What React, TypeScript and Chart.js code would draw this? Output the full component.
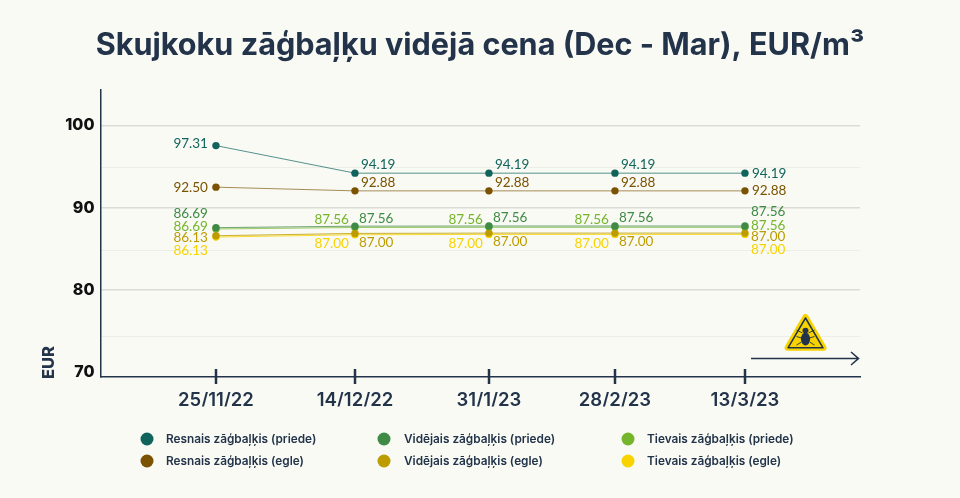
import React, { useEffect, useRef } from "react";
import { Chart, registerables } from "chart.js";

Chart.register(...registerables);

const categories = ["25/11/22", "14/12/22", "31/1/23", "28/2/23", "13/3/23"];
// Dates sit unevenly along the axis in the reference.
const categoryPositions = [0, 1.051, 2.064, 3.017, 4];

const seriesNames = [
  "Resnais zāģbaļķis (priede)",
  "Resnais zāģbaļķis (egle)",
  "Vidējais zāģbaļķis (priede)",
  "Vidējais zāģbaļķis (egle)",
  "Tievais zāģbaļķis (priede)",
  "Tievais zāģbaļķis (egle)",
];

// Plotted heights
const resnaisPriede = [97.55, 94.2, 94.2, 94.2, 94.2];
const resnaisEgle = [92.5, 92.05, 92.05, 92.05, 92.05];
const vidPriede = [87.58, 87.76, 87.78, 87.78, 87.78];
const vidEgle = [86.6, 86.88, 86.92, 86.92, 86.92];
const tievPriede = [87.42, 87.6, 87.62, 87.62, 87.62];
const tievEgle = [86.44, 86.72, 86.76, 86.76, 86.76];

// Printed labels
const resnaisPriedeLabels = ["97.31", "94.19", "94.19", "94.19", "94.19"];
const resnaisEgleLabels = ["92.50", "92.88", "92.88", "92.88", "92.88"];
const vidPriedeLabels = ["86.69", "87.56", "87.56", "87.56", "87.56"];
const vidEgleLabels = ["86.13", "87.00", "87.00", "87.00", "87.00"];
const tievPriedeLabels = ["86.69", "87.56", "87.56", "87.56", "87.56"];
const tievEgleLabels = ["86.13", "87.00", "87.00", "87.00", "87.00"];

const TITLE = "Skujkoku zāģbaļķu vidējā cena (Dec - Mar), EUR/m³";
const FONT = "Inter";
const LABEL_FONT = "Lato";
const INK = "#22334a";
const BG = "#f9faf4";

type Place = { dx: number; dy: number; align: CanvasTextAlign };
type Row = { color: string; line: string; data: number[]; labels: string[]; first: Place; mid: Place; last: Place };

const left = (dx: number, dy: number): Place => ({ dx, dy, align: "left" });
const right = (dx: number, dy: number): Place => ({ dx, dy, align: "right" });

const rows: Row[] = [
  { color: "#11645c", line: "rgba(17,100,92,0.7)", data: resnaisPriede, labels: resnaisPriedeLabels, first: right(-8, -1.5), mid: left(6, -8.5), last: left(7, 0) },
  { color: "#7a5200", line: "rgba(122,82,0,0.65)", data: resnaisEgle, labels: resnaisEgleLabels, first: right(-8, 0), mid: left(6, -8), last: left(7, 0) },
  { color: "#3f8a45", line: "rgba(63,138,69,0.75)", data: vidPriede, labels: vidPriedeLabels, first: right(-8, -14), mid: left(4, -8), last: left(6, -14) },
  { color: "#bd9c00", line: "rgba(189,156,0,0.8)", data: vidEgle, labels: vidEgleLabels, first: right(-8, 2), mid: left(4, 9), last: left(6, 3.5) },
  { color: "#75b52b", line: "rgba(117,181,43,0.7)", data: tievPriede, labels: tievPriedeLabels, first: right(-8, -2.5), mid: right(-6, -8), last: left(6, -2) },
  { color: "#f8d300", line: "rgba(248,211,0,0.8)", data: tievEgle, labels: tievEgleLabels, first: right(-8, 13.5), mid: right(-6, 9), last: left(6, 15) },
];

const pointLabels = {
  id: "pointLabels",
  afterDatasetsDraw(chart: any) {
    const ctx = chart.ctx;
    ctx.save();
    ctx.font = `400 13.5px ${LABEL_FONT}`;
    ctx.textBaseline = "middle";
    rows.forEach((r, i) => {
      const pts = chart.getDatasetMeta(i).data;
      r.labels.forEach((txt, j) => {
        const p = j === 0 ? r.first : j === r.labels.length - 1 ? r.last : r.mid;
        ctx.fillStyle = r.color;
        ctx.textAlign = p.align;
        ctx.fillText(txt, pts[j].x + p.dx, pts[j].y + p.dy);
      });
    });
    ctx.restore();
  },
};

const axisMarks = {
  id: "axisMarks",
  afterDatasetsDraw(chart: any) {
    const ctx = chart.ctx;
    const sx = chart.scales.x;
    const bottom = chart.chartArea.bottom;
    ctx.save();
    ctx.strokeStyle = INK;
    ctx.lineWidth = 2.5;
    categoryPositions.forEach((v) => {
      const x = Math.round(sx.getPixelForValue(v));
      ctx.beginPath();
      ctx.moveTo(x, bottom - 7.5);
      ctx.lineTo(x, bottom + 7.5);
      ctx.stroke();
    });
    // EUR
    ctx.save();
    ctx.translate(49, 362.5);
    ctx.rotate(-Math.PI / 2);
    ctx.fillStyle = INK;
    ctx.font = `800 16.5px ${FONT}`;
    ctx.textAlign = "center";
    ctx.textBaseline = "middle";
    ctx.fillText("EUR", 0, 0);
    ctx.restore();

    // arrow
    ctx.strokeStyle = INK;
    ctx.lineWidth = 1.6;
    ctx.beginPath();
    ctx.moveTo(751, 358.5);
    ctx.lineTo(858, 358.5);
    ctx.moveTo(851, 352);
    ctx.lineTo(858.5, 358.5);
    ctx.lineTo(851, 365);
    ctx.stroke();

    // warning sign with bug
    ctx.lineJoin = "round";
    const tri = (x: number, yTop: number, yBot: number, half: number) => {
      ctx.beginPath();
      ctx.moveTo(x, yTop);
      ctx.lineTo(x + half, yBot);
      ctx.lineTo(x - half, yBot);
      ctx.closePath();
    };
    ctx.fillStyle = "#f8d300";
    ctx.strokeStyle = "#f8d300";
    ctx.lineWidth = 6;
    tri(805.5, 317, 347.8, 18);
    ctx.fill();
    ctx.stroke();
    ctx.strokeStyle = INK;
    ctx.lineWidth = 1.5;
    tri(805.5, 318, 347.8, 17.5);
    ctx.stroke();
    ctx.fillStyle = INK;
    ctx.beginPath();
    ctx.ellipse(805.5, 339, 4.6, 6.5, 0, 0, Math.PI * 2);
    ctx.fill();
    ctx.beginPath();
    ctx.ellipse(805.5, 330.5, 3, 2.8, 0, 0, Math.PI * 2);
    ctx.fill();
    ctx.lineWidth = 0.9;
    [-1, 1].forEach((s) => {
      ctx.beginPath();
      ctx.moveTo(805.5 + s * 3, 333);
      ctx.lineTo(805.5 + s * 9, 330);
      ctx.moveTo(805.5 + s * 4, 338);
      ctx.lineTo(805.5 + s * 9, 336.5);
      ctx.moveTo(805.5 + s * 4, 342);
      ctx.lineTo(805.5 + s * 9, 345);
      ctx.stroke();
    });

    // legend
    const colX = [147, 384, 628];
    const textX = [166, 404, 647];
    const rowY = [439, 461];
    ctx.font = `600 11.8px ${FONT}`;
    ctx.textAlign = "left";
    ctx.textBaseline = "middle";
    seriesNames.forEach((name, i) => {
      const c = Math.floor(i / 2);
      const r = i % 2;
      ctx.fillStyle = rows[i].color;
      ctx.beginPath();
      ctx.arc(colX[c], rowY[r], 6.5, 0, Math.PI * 2);
      ctx.fill();
      ctx.fillStyle = INK;
      ctx.fillText(name, textX[c], rowY[r]);
    });
    ctx.restore();
  },
};

export default function App() {
  const ref = useRef<HTMLCanvasElement>(null);
  useEffect(() => {
    const chart = new Chart(ref.current!, {
      type: "line",
      data: {
        datasets: rows.map((r, i) => ({
          label: seriesNames[i],
          data: r.data.map((y, j) => ({ x: categoryPositions[j], y })),
          borderColor: r.line,
          borderWidth: 1,
          pointRadius: 3.7,
          pointHoverRadius: 3.7,
          pointBackgroundColor: r.color,
          pointBorderWidth: 0,
          tension: 0,
        })),
      },
      options: {
        animation: false,
        responsive: false,
        layout: { padding: { left: 0, right: 0, top: 0, bottom: 91.5 } },
        plugins: {
          legend: { display: false },
          tooltip: { enabled: false },
          title: {
            display: true,
            text: TITLE,
            color: INK,
            font: { family: FONT, size: 30.6, weight: "700", lineHeight: 1.2 },
            padding: { top: 27, bottom: 26.3 },
          },
        },
        scales: {
          x: {
            type: "linear",
            min: -0.873,
            max: 4.87,
            afterFit: (s: any) => { s.height = 30; },
            afterBuildTicks: (s: any) => { s.ticks = categoryPositions.map((value) => ({ value })); },
            border: { display: true, color: INK, width: 1.5 },
            grid: { display: false, drawTicks: false },
            ticks: {
              autoSkip: false,
              maxRotation: 0,
              padding: 13,
              color: INK,
              font: { family: FONT, size: 18.5, weight: "600" },
              callback: (v: any) => categories[categoryPositions.indexOf(Number(v))],
            },
          },
          y: {
            min: 69.5,
            max: 104.3,
            afterFit: (s: any) => { s.width = 100.5; },
            afterBuildTicks: (s: any) => {
              s.ticks = [70, 74.3, 80, 84.8, 90, 94.9, 100].map((value) => ({ value }));
            },
            border: { display: true, color: INK, width: 1.5 },
            grid: {
              drawTicks: false,
              color: (c: any) => {
                const v = c.tick?.value;
                if (v === 70) return "rgba(0,0,0,0)";
                return v % 10 === 0 ? "#dcdcd4" : "#eeeee8";
              },
              lineWidth: (c: any) => (c.tick?.value % 10 === 0 ? 1.5 : 1),
            },
            ticks: {
              padding: 6,
              color: "#111111",
              font: { family: FONT, size: 16, weight: "800" },
              callback: (v: any) => (Number(v) % 10 === 0 ? String(v) : ""),
            },
          },
          gutter: {
            position: "right",
            display: true,
            afterFit: (s: any) => { s.width = 100; },
            border: { display: false },
            grid: { display: false, drawTicks: false },
            ticks: { display: false },
          },
        },
      },
      plugins: [pointLabels, axisMarks],
    } as any);
    return () => chart.destroy();
  }, []);

  return (
    <div style={{ position: "fixed", left: 0, top: 0, width: 960, height: 498, background: BG }}>
      <canvas ref={ref} width={960} height={498} style={{ display: "block", width: 960, height: 498 }} />
    </div>
  );
}
